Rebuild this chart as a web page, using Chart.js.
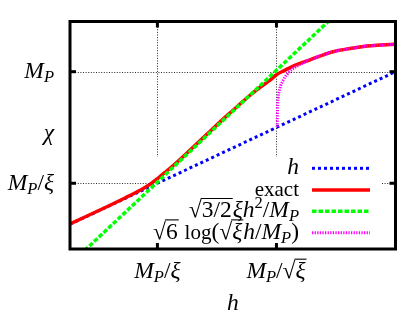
<!DOCTYPE html>
<html>
<head>
<meta charset="utf-8">
<script src="https://cdn.jsdelivr.net/npm/chart.js@4.4.1/dist/chart.umd.min.js"></script>
<style>
  html, body { margin: 0; padding: 0; background: #fff; }
  canvas { display: block; }
</style>
</head>
<body>
<canvas id="c" width="415" height="321"></canvas>
<script>
// ---- data (units of M_P, with xi = 1e4) ----
const xRange = [3.4e-6, 1];
const yRange = [4.4e-7, 63];
const xTickValues = [1e-4, 1e-2];
const xTickLabels = ["M_P/ξ", "M_P/√ξ"];
const yTickValues = [1e-4, 1];
const yTickLabels = ["M_P/ξ", "M_P"];
const xTitle = "h";
const yTitle = "χ";
const seriesNames = ["h", "exact", "√{3/2}ξh^2/M_P", "√6 log(√ξh/M_P)"];

const hLineH   = [3.4e-6, 1];
const hLineChi = [3.4e-6, 1];

const exactH   = [3.4e-6, 1.60e-5, 2.85e-5, 4.19e-5, 6.17e-5, 8.09e-5, 1.02e-4, 1.34e-4, 1.97e-4, 3.51e-4, 7.60e-4, 1.64e-3, 3.56e-3, 5.66e-3, 7.72e-3, 1.01e-2, 1.38e-2, 2.03e-2, 3.66e-2, 8.91e-2, 0.172, 0.330, 0.570, 1];
const exactChi = [3.48e-6, 1.63e-5, 2.97e-5, 4.49e-5, 7.06e-5, 1.03e-4, 1.51e-4, 2.44e-4, 4.92e-4, 1.53e-3, 7.19e-3, 3.26e-2, 0.140, 0.307, 0.484, 0.794, 1.12, 1.69, 2.67, 5.20, 6.78, 8.34, 9.04, 9.66];

const quadH   = [6e-6, 0.08];
const quadChi = [3.9e-7, 73];

const logH   = [0.01028, 0.01040, 0.01069, 0.01146, 0.01288, 0.01503, 0.01824, 0.02301, 0.03013, 0.0366, 0.0891, 0.172, 0.330, 0.570, 1];
const logChi = [0.0104, 0.0423, 0.114, 0.260, 0.483, 0.793, 1.20, 1.66, 2.22, 2.67, 5.20, 6.78, 8.34, 9.04, 9.66];

const colors = ["#0000ff", "#ff0000", "#00ff00", "#ff00ff"];
const dashes = [[3, 3], [], [4.5, 2], [1.3, 1.3]];
const widths = [3, 3.5, 3.5, 3];
const smooth = [false, true, false, true];

function pts(xs, ys) { return xs.map((x, i) => ({ x: x, y: ys[i] })); }

// ---- rich text helpers ----
const FS = 21;
const MATH = 1.12;
const FAMILY = '"Liberation Serif", "Times New Roman", serif';
function fontOf(r) { return (r.it ? 'italic ' : '') + ((r.sz || 1) * (r.up ? 1 : MATH) * FS).toFixed(1) + 'px ' + FAMILY; }
function parse(s) {
  const runs = []; let i = 0;
  while (i < s.length) {
    if (s.startsWith('exact', i)) { runs.push({ t: 'exact', up: true }); i += 5; continue; }
    if (s.startsWith('log', i)) { runs.push({ t: 'log', up: true }); i += 3; continue; }
    const c = s[i];
    if (c === '√') {
      let inner;
      if (s[i + 1] === '{') { const j = s.indexOf('}', i); inner = s.slice(i + 2, j); i = j + 1; }
      else { inner = s[i + 1]; i += 2; }
      runs.push({ rad: parse(inner) }); continue;
    }
    if (c === '_') { runs.push({ t: s[i + 1], it: /[A-Za-z]/.test(s[i + 1]), sz: 0.7, dy: 4 }); i += 2; continue; }
    if (c === '^') { runs.push({ t: s[i + 1], sz: 0.7, dy: -9 }); i += 2; continue; }
    runs.push({ t: c, it: /[A-Za-zξχ]/.test(c) }); i++;
  }
  return runs;
}
function measure(ctx, runs) {
  let w = 0;
  for (const r of runs) {
    if (r.rad) { ctx.font = fontOf({}); w += ctx.measureText('√').width + measure(ctx, r.rad) + 1; }
    else { ctx.font = fontOf(r); w += ctx.measureText(r.t).width; }
  }
  return w;
}
function drawRuns(ctx, runs, x, y) {
  for (const r of runs) {
    if (r.rad) {
      ctx.font = fontOf({});
      ctx.fillText('√', x, y);
      const sw = ctx.measureText('√').width;
      const inner = measure(ctx, r.rad);
      const top = y - FS * MATH * 0.80;
      ctx.beginPath(); ctx.moveTo(x + sw - 1, top); ctx.lineTo(x + sw + inner + 1, top);
      ctx.lineWidth = 1.1; ctx.setLineDash([]); ctx.stroke();
      x = drawRuns(ctx, r.rad, x + sw, y) + 1;
    } else {
      ctx.font = fontOf(r);
      ctx.fillText(r.t, x, y + (r.dy || 0));
      x += ctx.measureText(r.t).width;
    }
  }
  return x;
}
function drawText(ctx, s, x, y, align) {
  const runs = parse(s);
  const w = measure(ctx, runs);
  let x0 = x;
  if (align === 'right') x0 = x - w; else if (align === 'center') x0 = x - w / 2;
  ctx.textAlign = 'left'; ctx.textBaseline = 'alphabetic'; ctx.fillStyle = '#000'; ctx.strokeStyle = '#000';
  drawRuns(ctx, runs, x0, y);
}

// ---- plugin: grid, key box, frame, ticks, labels, legend ----
const deco = {
  id: 'deco',
  beforeDatasetsDraw(chart) {
    const { ctx, chartArea: a, scales } = chart;
    ctx.save();
    ctx.strokeStyle = 'rgba(0,0,0,0.85)'; ctx.lineWidth = 1; ctx.setLineDash([1, 1.6]);
    xTickValues.forEach(v => { const px = Math.round(scales.x.getPixelForValue(v)) + 0.5; ctx.beginPath(); ctx.moveTo(px, a.top); ctx.lineTo(px, a.bottom); ctx.stroke(); });
    yTickValues.forEach(v => { const py = Math.round(scales.y.getPixelForValue(v)) + 0.5; ctx.beginPath(); ctx.moveTo(a.left, py); ctx.lineTo(a.right, py); ctx.stroke(); });
    ctx.fillStyle = '#fff';
    ctx.fillRect(152, 157, 382 - 152, a.bottom - 157);
    ctx.restore();
  },
  afterDatasetsDraw(chart) {
    const { ctx, chartArea: a, scales } = chart;
    ctx.save();
    ctx.setLineDash([]);
    ctx.strokeStyle = '#000'; ctx.lineWidth = 3;
    ctx.strokeRect(a.left, a.top, a.right - a.left, a.bottom - a.top);
    const T = 6;
    xTickValues.forEach(v => {
      const px = scales.x.getPixelForValue(v);
      ctx.beginPath(); ctx.moveTo(px, a.bottom); ctx.lineTo(px, a.bottom - T); ctx.stroke();
      ctx.beginPath(); ctx.moveTo(px, a.top); ctx.lineTo(px, a.top + T); ctx.stroke();
    });
    yTickValues.forEach(v => {
      const py = scales.y.getPixelForValue(v);
      ctx.beginPath(); ctx.moveTo(a.left, py); ctx.lineTo(a.left + T, py); ctx.stroke();
      ctx.beginPath(); ctx.moveTo(a.right, py); ctx.lineTo(a.right - T, py); ctx.stroke();
    });
    xTickValues.forEach((v, i) => drawText(ctx, xTickLabels[i], scales.x.getPixelForValue(v), a.bottom + 29, 'center'));
    yTickValues.forEach((v, i) => drawText(ctx, yTickLabels[i], a.left - 16, scales.y.getPixelForValue(v) + 6.5, 'right'));
    drawText(ctx, xTitle, (a.left + a.right) / 2, 310, 'center');
    drawText(ctx, yTitle, 49, (a.top + a.bottom) / 2 + 5, 'center');
    const rowY = [168.3, 190, 211.3, 232.7];
    seriesNames.forEach((name, i) => {
      drawText(ctx, name, 299, rowY[i] + 6, 'right');
      ctx.strokeStyle = colors[i]; ctx.lineWidth = widths[i]; ctx.setLineDash(dashes[i]);
      ctx.beginPath(); ctx.moveTo(312, rowY[i]); ctx.lineTo(370, rowY[i]); ctx.stroke();
      ctx.setLineDash([]);
    });
    ctx.restore();
  }
};

const series = [pts(hLineH, hLineChi), pts(exactH, exactChi), pts(quadH, quadChi), pts(logH, logChi)];

new Chart(document.getElementById('c'), {
  type: 'line',
  data: {
    datasets: series.map((d, i) => ({
      label: seriesNames[i],
      data: d,
      borderColor: colors[i],
      borderWidth: widths[i],
      borderDash: dashes[i],
      pointRadius: 0,
      cubicInterpolationMode: smooth[i] ? 'monotone' : 'default',
      tension: 0,
      fill: false,
      clip: 0,
      order: 4 - i
    }))
  },
  options: {
    responsive: false,
    animation: false,
    events: [],
    layout: { padding: { left: 70, top: 21.5, right: 19.5, bottom: 72 } },
    plugins: { legend: { display: false }, tooltip: { enabled: false } },
    scales: {
      x: { type: 'logarithmic', min: xRange[0], max: xRange[1], display: false },
      y: { type: 'logarithmic', min: yRange[0], max: yRange[1], display: false }
    }
  },
  plugins: [deco]
});
</script>
</body>
</html>
